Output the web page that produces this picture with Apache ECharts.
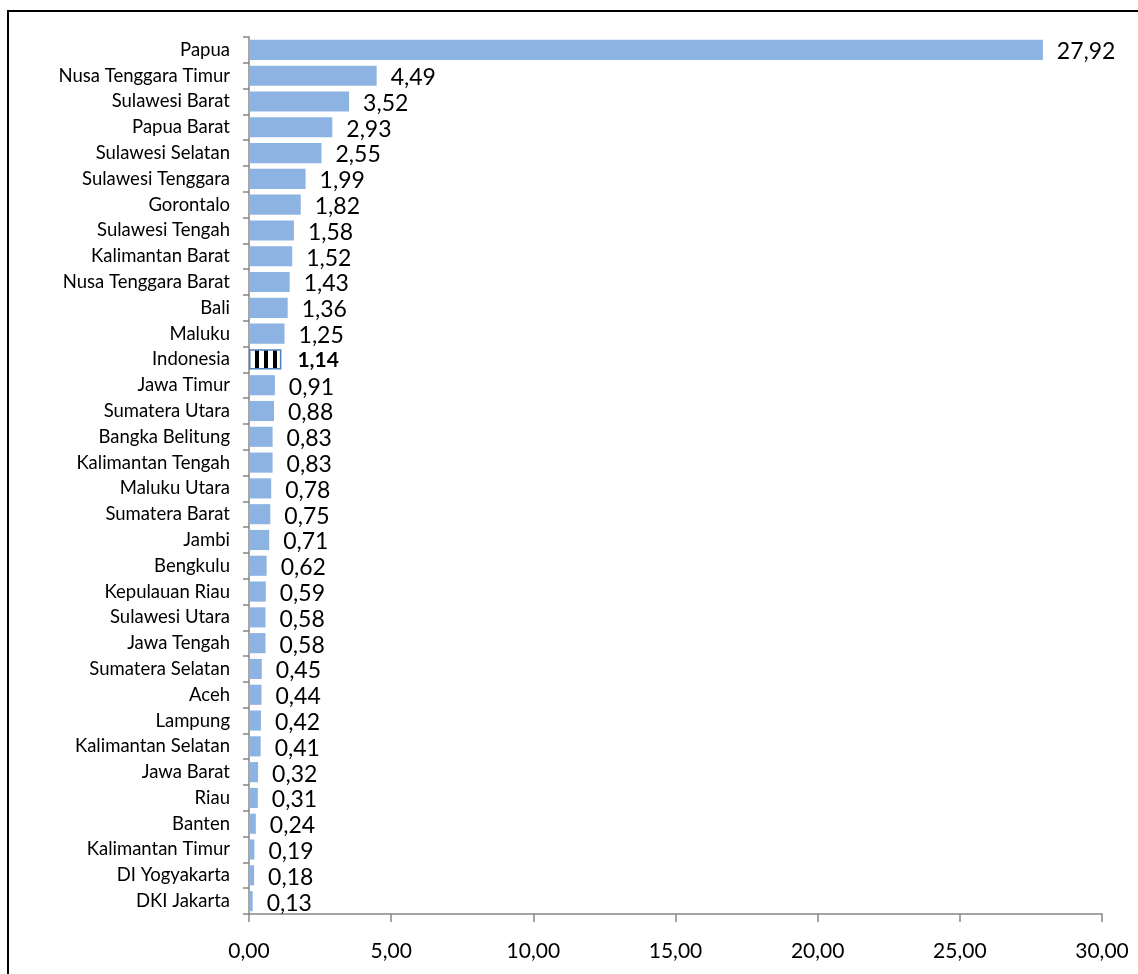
<!DOCTYPE html>
<html>
<head>
<meta charset="utf-8">
<script src="https://cdn.jsdelivr.net/npm/echarts@6/dist/echarts.min.js"></script>
<style>
html,body{margin:0;padding:0;background:#fff;}
#chart{width:1138px;height:974px;}
</style>
</head>
<body>
<div id="chart"></div>
<script>
const categories = ["Papua","Nusa Tenggara Timur","Sulawesi Barat","Papua Barat","Sulawesi Selatan","Sulawesi Tenggara","Gorontalo","Sulawesi Tengah","Kalimantan Barat","Nusa Tenggara Barat","Bali","Maluku","Indonesia","Jawa Timur","Sumatera Utara","Bangka Belitung","Kalimantan Tengah","Maluku Utara","Sumatera Barat","Jambi","Bengkulu","Kepulauan Riau","Sulawesi Utara","Jawa Tengah","Sumatera Selatan","Aceh","Lampung","Kalimantan Selatan","Jawa Barat","Riau","Banten","Kalimantan Timur","DI Yogyakarta","DKI Jakarta"];
const values = [27.92,4.49,3.52,2.93,2.55,1.99,1.82,1.58,1.52,1.43,1.36,1.25,1.14,0.91,0.88,0.83,0.83,0.78,0.75,0.71,0.62,0.59,0.58,0.58,0.45,0.44,0.42,0.41,0.32,0.31,0.24,0.19,0.18,0.13];
const xTicks = [0,5,10,15,20,25,30];
const highlight = "Indonesia";

const FONT = 'Lato';
// stripe pattern for the national bar
const pc = document.createElement('canvas');
pc.width = 9; pc.height = 9;
const pctx = pc.getContext('2d');
pctx.fillStyle = '#ffffff'; pctx.fillRect(0,0,9,9);
pctx.fillStyle = '#000000'; pctx.fillRect(3,0,4,9);

const data = values.map((v,i) => {
  if (categories[i] === highlight) {
    return {
      value: v,
      itemStyle: { color: {image: pc, repeat: 'repeat'}, borderColor: '#4F81BD', borderWidth: 1.5 },
      label: { show: true, position: 'right', fontFamily: FONT, fontWeight: 'bold', fontSize: 21, distance: 16, color: '#000', offset: [0, 1] }
    };
  }
  return v;
});

const chart = echarts.init(document.getElementById('chart'), null, {renderer:'canvas'});
chart.setOption({
  animation: false,
  backgroundColor: '#ffffff',
  grid: { left: 249, right: 36, top: 37, bottom: 60, containLabel: false },
  xAxis: {
    type: 'value', min: 0, max: 30, interval: 5,
    axisLine: { show: true, lineStyle: { color: '#868686', width: 1.5 } },
    axisTick: { show: true, length: 8, lineStyle: { color: '#868686', width: 1.5 } },
    splitLine: { show: false },
    axisLabel: {
      color: '#000', fontFamily: FONT, fontSize: 21, margin: 27,
      formatter: v => xTicks.includes(v) ? v.toFixed(2).replace('.', ',') : ''
    }
  },
  yAxis: {
    type: 'category', data: categories, inverse: true,
    axisLine: { show: true, lineStyle: { color: '#868686', width: 1.5 } },
    axisTick: { show: true, length: 6, lineStyle: { color: '#868686', width: 1.5 } },
    axisLabel: { color: '#000', fontFamily: FONT, fontSize: 18.5, margin: 19, interval: 0, padding: [3, 0, 0, 0] }
  },
  series: [{
    type: 'bar',
    data: data,
    barCategoryGap: '22%',
    itemStyle: { color: '#8DB3E2' },
    label: {
      show: true, position: 'right', distance: 14, offset: [0, 2],
      color: '#000', fontFamily: FONT, fontSize: 23,
      formatter: p => p.value.toFixed(2).replace('.', ',')
    }
  }],
  graphic: [{
    type: 'rect', silent: true, z: 100,
    shape: { x: 8, y: 11, width: 1200, height: 1100 },
    style: { fill: 'none', stroke: '#000', lineWidth: 2 }
  }]
});
</script>
</body>
</html>
